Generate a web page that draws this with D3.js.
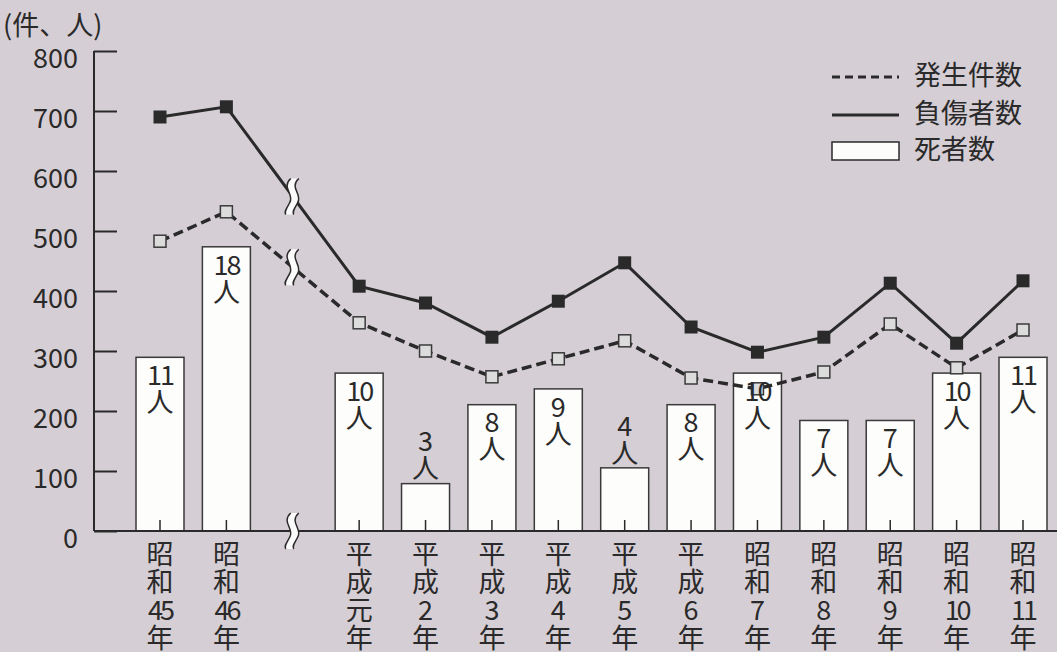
<!DOCTYPE html>
<html>
<head>
<meta charset="utf-8">
<script src="https://cdn.jsdelivr.net/npm/d3@7"></script>
<style>
  body { margin: 0; background: #d6ced5; }
  svg { display: block; font-family: "Noto Sans CJK JP", "Noto Sans", sans-serif; }
</style>
</head>
<body>
<div id="chart"></div>
<script>
// Categories (the "break" slot marks the gap between 昭和46年 and 平成元年)
const categories = [
  "昭和45年", "昭和46年", "break", "平成元年", "平成2年", "平成3年", "平成4年",
  "平成5年", "平成6年", "昭和7年", "昭和8年", "昭和9年", "昭和10年", "昭和11年"
];
// 発生件数 (dashed line)
const incidents = [483, 532, null, 347, 300, 257, 287, 317, 255, 237, 265, 345, 272, 335];
// 負傷者数 (solid line)
const injured = [690, 707, null, 408, 380, 323, 383, 447, 340, 298, 323, 413, 313, 417];
// 死者数 (bars, people)
const deaths = [11, 18, null, 10, 3, 8, 9, 4, 8, 10, 7, 7, 10, 11];
const yTicks = [0, 100, 200, 300, 400, 500, 600, 700, 800];

const W = 1057, H = 652;
const ink = "#2a2a2a";
const fs = "27px";

const svg = d3.select("#chart").append("svg")
  .attr("width", W).attr("height", H);

svg.append("rect").attr("width", W).attr("height", H).attr("fill", "#d6ced5");

// Scales
const x = d3.scalePoint().domain(categories).range([160, 1023]);
const y = d3.scaleLinear().domain([0, 800]).range([531, 51]);
// deaths are drawn on their own hidden scale
const yDeath = d3.scaleLinear().domain([0, 30.4]).range([531, 51]);
const barW = 48;

const rows = categories.map((c, i) => ({
  cat: c, inc: incidents[i], inj: injured[i], dead: deaths[i]
}));
const valid = rows.filter(d => d.cat !== "break");

// Bars
svg.append("g").selectAll("rect")
  .data(valid)
  .join("rect")
  .attr("x", d => x(d.cat) - barW / 2)
  .attr("y", d => yDeath(d.dead))
  .attr("width", barW)
  .attr("height", d => yDeath(0) - yDeath(d.dead))
  .attr("fill", "#fdfdfb")
  .attr("stroke", "#3a3a3a")
  .attr("stroke-width", 1.5);

// Y axis (ticks point inward)
const yAxis = svg.append("g")
  .attr("transform", "translate(94,0)")
  .call(d3.axisLeft(y).tickValues(yTicks).tickSize(-23).tickPadding(16));
yAxis.select(".domain").attr("stroke", ink).attr("stroke-width", 2).attr("d", "M0,51V531");
yAxis.selectAll(".tick line").attr("stroke", ink).attr("stroke-width", 2);
yAxis.selectAll(".tick text")
  .attr("fill", ink).style("font-size", fs)
  .style("font-family", "'Noto Sans CJK JP', sans-serif")
  .attr("y", 7)
  .attr("dy", "0.36em");

// Unit label
svg.append("text")
  .attr("x", 3).attr("y", 25)
  .attr("dy", "0.36em")
  .attr("fill", ink).style("font-size", fs)
  .text("(件、人)");

// X axis line
svg.append("line")
  .attr("x1", 94).attr("x2", W).attr("y1", 531).attr("y2", 531)
  .attr("stroke", ink).attr("stroke-width", 2);

// category ticks (pointing up into bars)
svg.append("g").selectAll("line")
  .data(valid)
  .join("line")
  .attr("x1", d => x(d.cat)).attr("x2", d => x(d.cat))
  .attr("y1", 531).attr("y2", 520)
  .attr("stroke", ink).attr("stroke-width", 1.5);

// vertical category labels
const lab = svg.append("g").selectAll("g")
  .data(valid)
  .join("g")
  .attr("transform", d => `translate(${x(d.cat)},0)`);
lab.each(function (d) {
  const parts = [d.cat.slice(0, 1), d.cat.slice(1, 2), d.cat.slice(2, -1), "年"];
  d3.select(this).selectAll("text")
    .data(parts)
    .join("text")
    .attr("x", 0)
    .attr("y", (p, i) => 554 + i * 28)
    .attr("dy", "0.36em")
    .attr("text-anchor", "middle")
    .attr("fill", ink)
    .style("font-size", fs)
    .style("letter-spacing", p => p.length > 1 ? "-3px" : null)
    .text(p => p);
});

// Lines
const lineGen = key => d3.line()
  .x(d => x(d.cat))
  .y(d => y(d[key]));

svg.append("path")
  .datum(valid)
  .attr("fill", "none")
  .attr("stroke", ink)
  .attr("stroke-width", 3.5)
  .attr("stroke-dasharray", "10,5")
  .attr("d", lineGen("inc"));

svg.append("path")
  .datum(valid)
  .attr("fill", "none")
  .attr("stroke", ink)
  .attr("stroke-width", 3)
  .attr("d", lineGen("inj"));

// Break symbols
function breakMark(cx, cy) {
  const g = svg.append("g").attr("transform", `translate(${cx - 1},${cy})`);
  g.append("path")
    .attr("d", "M-1,-18 C-11,-9 3,-2 -2,6 C-5,12 -8,15 -6,18 L2,18 C0,15 3,12 6,6 C11,-2 -3,-9 7,-18 Z")
    .attr("fill", "#fbfbfb");
  ["M-1,-18 C-11,-9 3,-2 -2,6 C-5,12 -8,15 -6,18",
   "M7,-18 C-3,-9 11,-2 6,6 C3,12 0,15 2,18"].forEach(p => g.append("path")
    .attr("d", p)
    .attr("fill", "none").attr("stroke", ink).attr("stroke-width", 1.5));
}
const bi = categories.indexOf("break");
const bx = x("break");
const prev = rows[bi - 1], next = rows[bi + 1];
const lerp = key => y(prev[key]) + (y(next[key]) - y(prev[key])) *
  (bx - x(prev.cat)) / (x(next.cat) - x(prev.cat));
breakMark(bx, lerp("inj"));
breakMark(bx, lerp("inc"));
breakMark(bx, 531);

// Markers
const ms = 13;
svg.append("g").selectAll("rect")
  .data(valid)
  .join("rect")
  .attr("x", d => x(d.cat) - ms / 2)
  .attr("y", d => y(d.inj) - ms / 2)
  .attr("width", ms).attr("height", ms)
  .attr("fill", "#2a2a2a");

svg.append("g").selectAll("rect")
  .data(valid)
  .join("rect")
  .attr("x", d => x(d.cat) - 6)
  .attr("y", d => y(d.inc) - 6)
  .attr("width", 12).attr("height", 12)
  .attr("fill", "#dcdcdc")
  .attr("stroke", "#3a3a3a").attr("stroke-width", 1.5);

// Bar labels
const bl = svg.append("g").selectAll("g")
  .data(valid)
  .join("g")
  .attr("transform", d => `translate(${x(d.cat)},${yDeath(d.dead)})`);
bl.each(function (d) {
  const inside = d.dead >= 7;
  const g = d3.select(this);
  g.append("text")
    .attr("y", inside ? 18 : -42)
    .attr("dy", "0.36em")
    .attr("text-anchor", "middle")
    .attr("fill", ink)
    .style("font-size", fs)
    .style("letter-spacing", String(d.dead).length > 1 ? "-2px" : null)
    .text(d.dead);
  g.append("text")
    .attr("y", inside ? 45 : -15)
    .attr("dy", "0.36em")
    .attr("text-anchor", "middle")
    .attr("fill", ink)
    .style("font-size", fs)
    .text("人");
});

// Legend
const legend = svg.append("g");
const legendItems = ["発生件数", "負傷者数", "死者数"];
const ly = [77, 115, 151];
legend.append("line")
  .attr("x1", 832).attr("x2", 899).attr("y1", ly[0]).attr("y2", ly[0])
  .attr("stroke", ink).attr("stroke-width", 3).attr("stroke-dasharray", "8,5");
legend.append("line")
  .attr("x1", 832).attr("x2", 899).attr("y1", ly[1]).attr("y2", ly[1])
  .attr("stroke", ink).attr("stroke-width", 3);
legend.append("rect")
  .attr("x", 832).attr("y", 142).attr("width", 67).attr("height", 18)
  .attr("fill", "#fdfdfb").attr("stroke", ink).attr("stroke-width", 1.5);
legend.selectAll("text")
  .data(legendItems)
  .join("text")
  .attr("x", 914)
  .attr("y", (d, i) => ly[i] - 2)
  .attr("dy", "0.36em")
  .attr("fill", ink)
  .style("font-size", fs)
  .text(d => d);
</script>
</body>
</html>
